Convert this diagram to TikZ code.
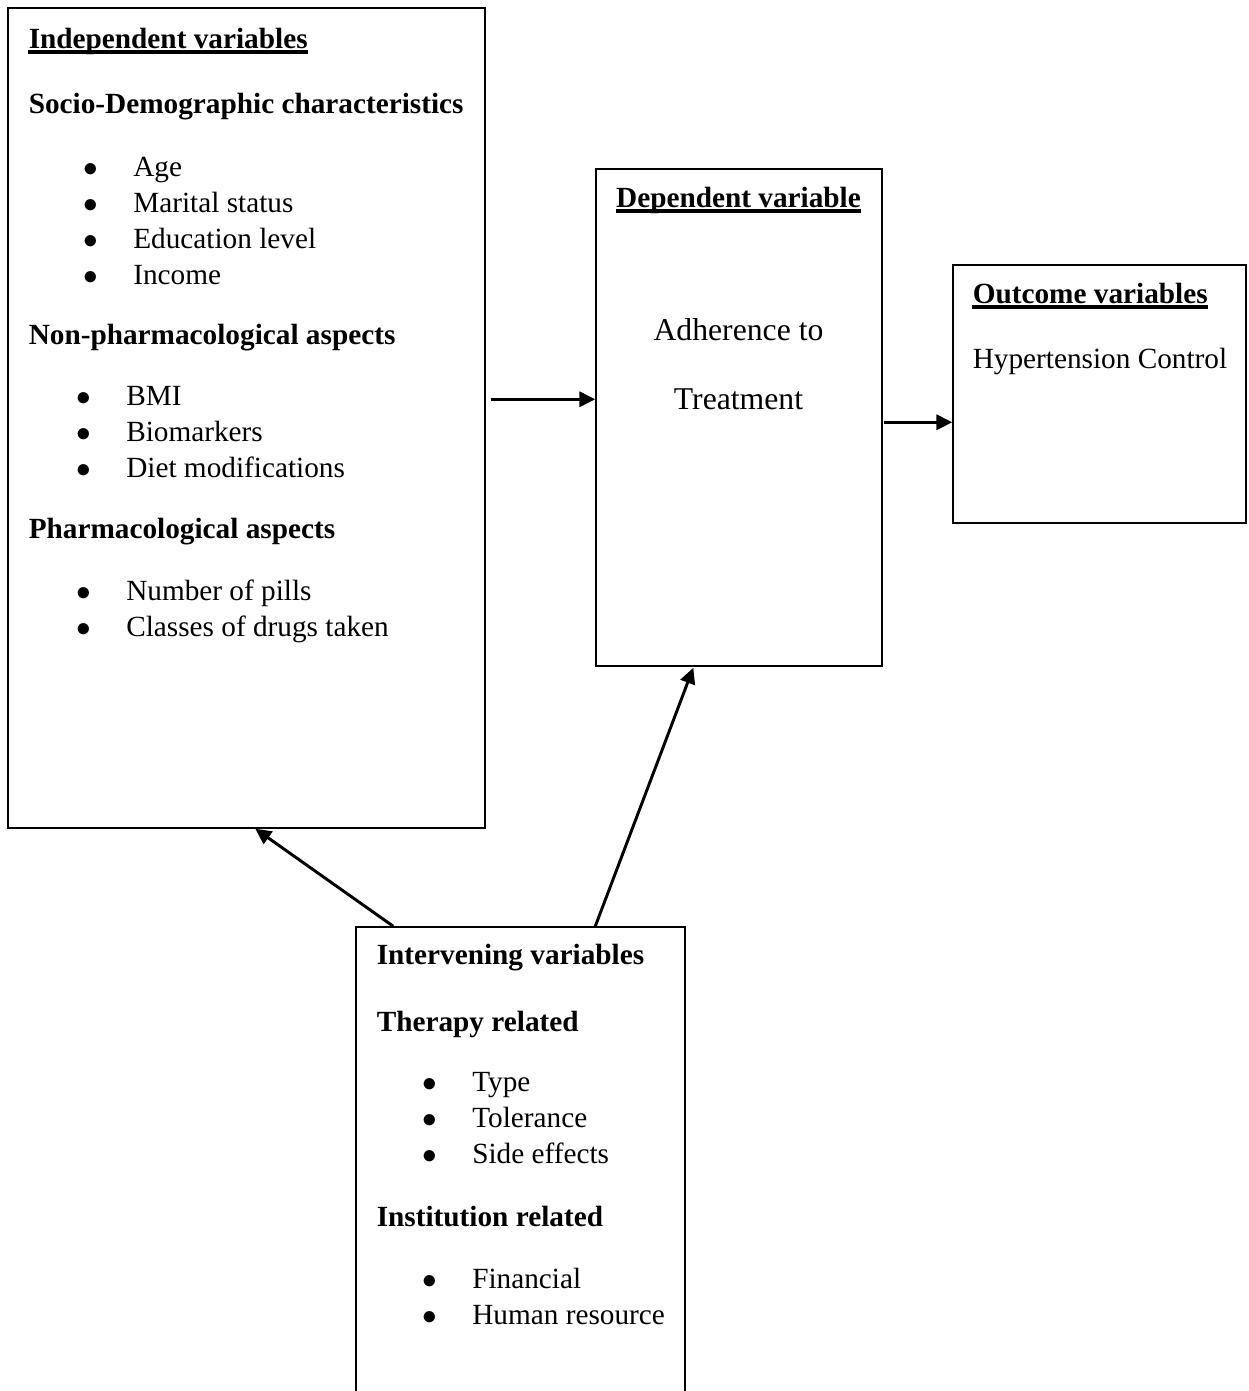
\documentclass[tikz,border=0pt]{standalone}
\usepackage{fontspec}
\setmainfont{Liberation Serif}
\usetikzlibrary{calc,fit,arrows.meta}

\newcommand{\txtsize}{\fontsize{12pt}{14.4pt}\selectfont}
\newcommand{\bul}{\makebox[20.3pt][l]{$\bullet$}}

\tikzset{
	px/.style={x=0.41pt,y=-0.41pt},
	box/.style={draw,line width=0.6pt,inner sep=0pt},
	head/.style={font=\txtsize\bfseries,anchor=base west,inner sep=0pt},
	item/.style={font=\txtsize,anchor=base west,inner sep=0pt},
	bigitem/.style={font=\fontsize{13pt}{15.6pt}\selectfont,anchor=base,inner sep=0pt},
	ulbar/.style={line width=1.3pt},
	flow/.style={line width=1.2pt,-{Triangle[length=6.5pt,width=6.2pt]}},
}

\begin{document}
\begin{tikzpicture}[px]
		\useasboundingbox (0,0) rectangle (1248,1391);
		% boxes
		\node[box,fit={(8,8) (485,828)}] (indep) {};
		\node[box,fit={(596,169) (882,666)}] (dep) {};
		\node[box,fit={(953,265) (1246,523)}] (outc) {};
		\node[box,fit={(356,927) (685,1420)}] (inter) {};
		%
		% independent variables
		\node[head] (hindep) at ($(indep.north west)+(21,41)$) {Independent variables};
		\node[head] (hsocio) at ($(hindep.base west)+(0,65)$) {Socio-Demographic characteristics};
		\node[item] (age) at ($(hsocio.base west)+(55,63)$) {\bul Age};
		\node[item] (marital) at ($(age.base west)+(0,36)$) {\bul Marital status};
		\node[item] (educ) at ($(marital.base west)+(0,36)$) {\bul Education level};
		\node[item] (income) at ($(educ.base west)+(0,36)$) {\bul Income};
		\node[head] (hnonph) at ($(hindep.base west)+(0,296)$) {Non-pharmacological aspects};
		\node[item] (bmi) at ($(hnonph.base west)+(48,61)$) {\bul BMI};
		\node[item] (biomark) at ($(bmi.base west)+(0,36)$) {\bul Biomarkers};
		\node[item] (diet) at ($(biomark.base west)+(0,36)$) {\bul Diet modifications};
		\node[head] (hpharm) at ($(hnonph.base west)+(0,194)$) {Pharmacological aspects};
		\node[item] (pills) at ($(hpharm.base west)+(48,62)$) {\bul Number of pills};
		\node[item] (drugs) at ($(pills.base west)+(0,36)$) {\bul Classes of drugs taken};
		%
		% dependent variable
		\node[head,anchor=base] (hdep) at ($(dep.north)+(-0.5,39)$) {Dependent variable};
		\node[bigitem] (adher) at ($(hdep.base)+(0,133)$) {Adherence to};
		\node[bigitem] (treat) at ($(adher.base)+(0,69)$) {Treatment};
		%
		% outcome variables
		\node[head] (houtc) at ($(outc.north west)+(20,39)$) {Outcome variables};
		\node[item] (hyper) at ($(houtc.base west)+(0,65)$) {Hypertension Control};
		%
		% intervening variables
		\node[head] (hinter) at ($(inter.north west)+(21,38)$) {Intervening variables};
		\node[head] (htherapy) at ($(hinter.base west)+(0,67)$) {Therapy related};
		\node[item] (type) at ($(htherapy.base west)+(46,60)$) {\bul Type};
		\node[item] (toler) at ($(type.base west)+(0,36)$) {\bul Tolerance};
		\node[item] (side) at ($(toler.base west)+(0,36)$) {\bul Side effects};
		\node[head] (hinst) at ($(htherapy.base west)+(0,195)$) {Institution related};
		\node[item] (financ) at ($(hinst.base west)+(46,62)$) {\bul Financial};
		\node[item] (human) at ($(financ.base west)+(0,36)$) {\bul Human resource};
		%
		% underlines
		\draw[ulbar] ([yshift=-1.5pt]hindep.base west) -- ([yshift=-1.5pt]hindep.base east);
		\draw[ulbar] ([yshift=-1.5pt]hdep.base west) -- ([yshift=-1.5pt]hdep.base east);
		\draw[ulbar] ([yshift=-1.5pt]houtc.base west) -- ([yshift=-1.5pt]houtc.base east);
		%
		% arrows
		\draw[flow] ($(indep.north east)+(5,392)$) -- ($(dep.north west)+(0,231)$);
		\draw[flow] ($(dep.north east)+(1,254)$) -- ($(outc.north west)+(0,158)$);
		\draw[flow] ($(inter.north west)+(38,0)$) -- ($(indep.south west)+(248,0)$);
		\draw[flow] ($(inter.north west)+(240,0)$) -- ($(dep.south west)+(98,1)$);
	\end{tikzpicture}
\end{document}
